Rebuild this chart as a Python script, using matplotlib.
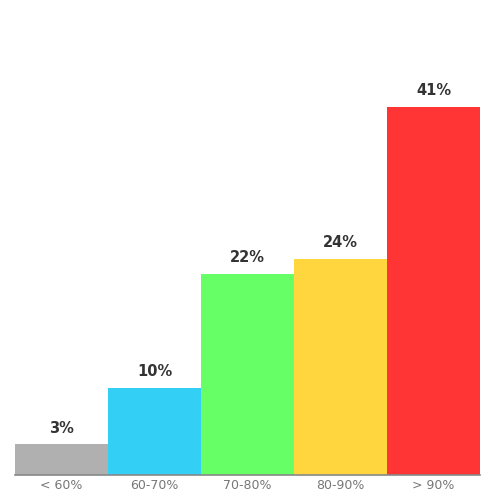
import matplotlib
matplotlib.use("Agg")
import matplotlib.pyplot as plt

categories = ["< 60%", "60-70%", "70-80%", "80-90%", "> 90%"]
values = [3.4, 9.7, 22.4, 24.1, 41.0]
labels = ["3%", "10%", "22%", "24%", "41%"]
colors = ["#b0b0b0", "#33cff5", "#66ff66", "#ffd63d", "#ff3535"]

fig = plt.figure(figsize=(5, 5), dpi=100)
ax = fig.add_axes([0.03, 0.05, 0.93, 0.93])

x = list(range(len(categories)))
bars = ax.bar(x, values, width=1.0, color=colors, linewidth=0)
for b, lab in zip(bars, labels):
    ax.text(b.get_x() + b.get_width() / 2, b.get_height() + 1.0, lab,
            ha="center", va="bottom", fontsize=10.5, fontweight="bold", color="#333333")

ax.set_xlim(-0.5, len(categories) - 0.5)
ax.set_ylim(0, 51.8)
ax.set_xticks(x)
ax.set_xticklabels(categories, fontsize=9, color="#777777")
ax.tick_params(axis="x", length=0, pad=3)
ax.set_yticks([])
for side in ["top", "right", "left"]:
    ax.spines[side].set_visible(False)
ax.spines["bottom"].set_color("#888888")
ax.spines["bottom"].set_linewidth(1.2)

fig.savefig("out.png", dpi=100)
